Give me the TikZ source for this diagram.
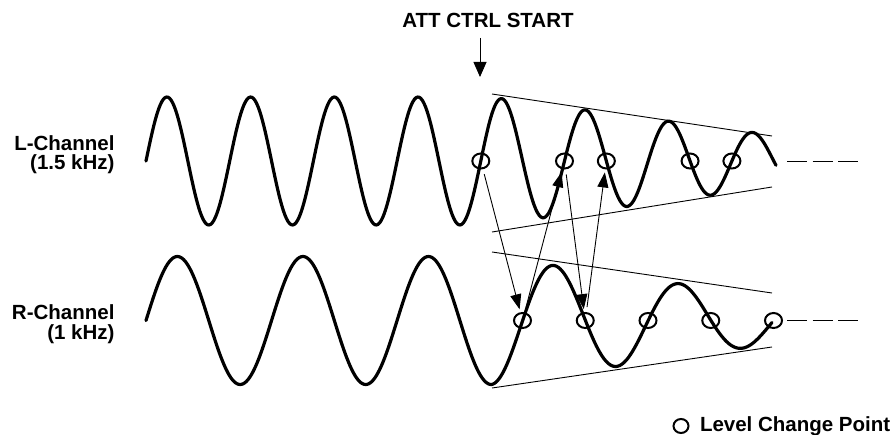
\documentclass[tikz,border=0pt]{standalone}
\usepackage{fontspec}
\setmainfont{Liberation Sans}
\usetikzlibrary{arrows.meta,positioning,shapes.geometric}
\begin{document}
\begin{tikzpicture}[x=1bp, y=-1bp,
  font=\fontsize{20.5bp}{19.5bp}\selectfont\bfseries,
  wave/.style={line width=3.2bp, line join=round, line cap=round},
  env/.style={line width=0.9bp},
  lcp/.style={draw, ellipse, line width=2bp, minimum width=17bp, minimum height=15bp, inner sep=0pt},
  link/.style={line width=0.9bp, -{Triangle[length=15bp,width=11bp]}, shorten <=5bp, shorten >=3bp},
  cont/.style={line width=1bp, dash pattern=on 20bp off 5.5bp}]
  \useasboundingbox (0,0) rectangle (892,435);

  % start of attenuation control
  \node (att) at (488,20) {ATT CTRL START};
  \coordinate (attbeg) at (480,38);
  \coordinate (attend) at (480,77);
  \draw[line width=0.9bp, -{Triangle[length=15bp,width=13bp]}] (attbeg) -- (attend);

  % channel names
  \node[align=right, anchor=east] (lname) at (118,154.5) {L-Channel\\(1.5 kHz)};
  \node[align=right, anchor=east] (rname) at (118,324) {R-Channel\\(1 kHz)};

  % L-channel: period 83.7 (360/83.7 = 4.3011), amplitude falls off after x = 490
  \draw[wave] plot[domain=146:776, samples=400, smooth]
    (\x, {161 - (64-0.135*max(0,\x-490))*sin(4.3011*(\x-146))});
  % R-channel: period 125.55 (360/125.55 = 2.8674), amplitude falls off after x = 492
  \draw[wave] plot[domain=146:772, samples=400, smooth]
    (\x, {320.5 - (64-0.145*max(0,\x-492))*sin(2.8674*(\x-146))});

  % envelopes
  \coordinate (lt0) at (492,94);  \coordinate (lt1) at (772,136);
  \coordinate (lb0) at (492,232); \coordinate (lb1) at (772,187);
  \coordinate (rt0) at (492,252); \coordinate (rt1) at (772,293);
  \coordinate (rb0) at (492,388); \coordinate (rb1) at (772,347);
  \draw[env] (lt0) -- (lt1);
  \draw[env] (lb0) -- (lb1);
  \draw[env] (rt0) -- (rt1);
  \draw[env] (rb0) -- (rb1);

  % continues
  \draw[cont] (787,162) -- (858,162);
  \draw[cont] (787,321) -- (858,321);

  % level change points (zero crossings)
  \foreach \n [count=\i] in {8,10,11,13,14}
    \node[lcp] (L\i) at ({146+\n*41.85},161) {};
  \foreach \n [count=\i] in {6,...,10}
    \node[lcp] (R\i) at ({146+\n*62.75},320.5) {};

  % order of level changes
  \draw[link] (L1) -- (R1);
  \draw[link] (R1) -- (L2);
  \draw[link] (L2) -- (R2);
  \draw[link] (R2) -- (L3);

  % legend
  \node[lcp, minimum width=15bp, minimum height=14bp] (key) at (681,426) {};
  \node[right=7bp of key] (keytxt) {Level Change Point};
\end{tikzpicture}
\end{document}
